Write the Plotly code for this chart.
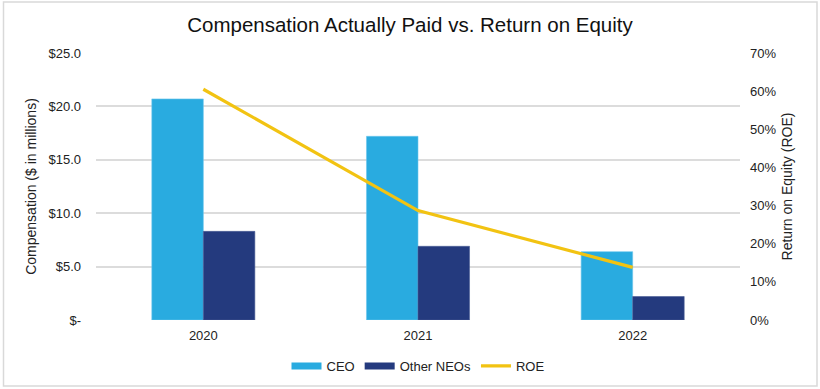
import plotly.graph_objects as go

years = ["2020", "2021", "2022"]
ceo_pay = [20.7, 17.2, 6.4]
other_neo_pay = [8.3, 6.9, 2.2]
roe = [0.605, 0.287, 0.138]

left_tickvals = [0, 5, 10, 15, 20, 25]
left_ticktext = ["$-", "$5.0", "$10.0", "$15.0", "$20.0", "$25.0"]

CEO_COLOR = "#29ABE0"
NEO_COLOR = "#243A7E"
ROE_COLOR = "#F2C312"
FONT = "Liberation Sans, Arial, Helvetica, sans-serif"

fig = go.Figure()
fig.add_trace(go.Bar(x=years, y=ceo_pay, name="CEO", marker=dict(color=CEO_COLOR, line=dict(color="#6cc6ec", width=0.6)),
                     showlegend=False, yaxis="y"))
fig.add_trace(go.Bar(x=years, y=other_neo_pay, name="Other NEOs", marker=dict(color=NEO_COLOR, line=dict(color="#4a5c96", width=0.6)),
                     showlegend=False, yaxis="y"))
fig.add_trace(go.Scatter(x=years, y=roe, name="ROE", mode="lines", line=dict(color=ROE_COLOR, width=3.2),
                         showlegend=False, yaxis="y2"))

# legend entries
fig.add_trace(go.Scatter(x=[None], y=[None], name="CEO", mode="lines", line=dict(color=CEO_COLOR, width=7)))
fig.add_trace(go.Scatter(x=[None], y=[None], name="Other NEOs", mode="lines", line=dict(color=NEO_COLOR, width=7)))
fig.add_trace(go.Scatter(x=[None], y=[None], name="ROE", mode="lines", line=dict(color=ROE_COLOR, width=3.2), yaxis="y2"))

L, R, T, B = 96, 80, 53, 69
W, H = 820, 389
pw, ph = W - L - R, H - T - B

def px_x(x):
    return (x - L) / pw

def px_y(y):
    return (H - B - y) / ph

fig.update_layout(
    width=W, height=H,
    margin=dict(l=L, r=R, t=T, b=B, autoexpand=False),
    paper_bgcolor="white", plot_bgcolor="white",
    font=dict(family=FONT, size=13, color="#222222"),
    title=dict(text="Compensation Actually Paid vs. Return on Equity", x=0.5, xanchor="center",
               y=1 - 25 / H, yanchor="middle", font=dict(size=20.5, color="#111111")),
    barmode="group", bargap=0.52, bargroupgap=0,
    xaxis=dict(showgrid=False, showline=False, ticks="", ticklabelstandoff=6, automargin=False,
               tickfont=dict(size=13)),
    yaxis=dict(range=[0, 25], tickvals=left_tickvals, ticktext=left_ticktext, automargin=False,
               showgrid=True, gridcolor="#dcdcdc", gridwidth=1.5, zeroline=False,
               showline=False, ticks="", ticklabelstandoff=14,
               title=dict(text="Compensation ($ in millions)", standoff=8, font=dict(size=14))),
    yaxis2=dict(range=[0, 0.7], dtick=0.1, tickformat=".0%", overlaying="y", side="right", automargin=False,
                showgrid=False, zeroline=False, showline=False, ticks="", ticklabelstandoff=9,
                title=dict(text="Return on Equity (ROE)", standoff=6, font=dict(size=14))),
    legend=dict(orientation="h", x=0.5, xanchor="center", yref="container", y=1 - 366 / H, yanchor="middle",
                font=dict(size=13), itemwidth=30, tracegroupgap=0, bgcolor="rgba(0,0,0,0)"),
    shapes=[dict(type="rect", xref="paper", yref="paper",
                 x0=px_x(3.5), x1=px_x(817), y0=px_y(386), y1=px_y(2),
                 line=dict(color="#d9d9d9", width=1.5), fillcolor="rgba(0,0,0,0)", layer="below")],
)

fig.write_html("out.html", config={"displayModeBar": False},
               post_script="document.body.style.margin='0';document.body.style.overflow='hidden';")
